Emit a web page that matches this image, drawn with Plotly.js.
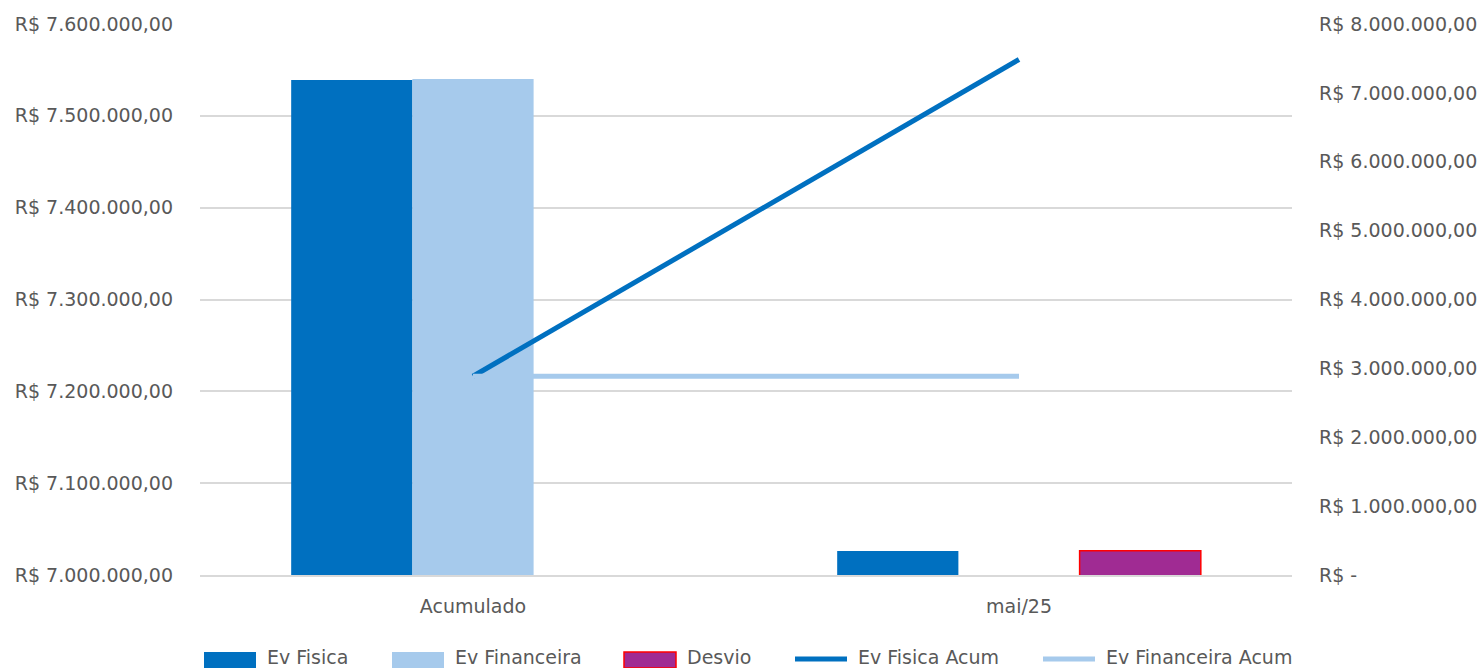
<!DOCTYPE html>
<html>
<head>
<meta charset="utf-8">
<script src="https://cdn.plot.ly/plotly-3.0.1.min.js"></script>
<style>
  html, body { margin: 0; padding: 0; background: #ffffff; overflow: hidden; }
  #chart { width: 1480px; height: 668px; }
</style>
</head>
<body>
<div id="chart"></div>
<script>
const categories = ["Acumulado", "mai/25"];
const seriesNames = ["Ev Fisica", "Ev Financeira", "Desvio", "Ev Fisica Acum", "Ev Financeira Acum"];

const evFisica = [7539000, 7026000];
const evFinanceira = [7540000, null];
const desvio = [null, 7026500];

const evFisicaAcum = [2886000, 7485000];
const evFinanceiraAcum = [2886000, 2886000];

const leftTickVals = [7000000, 7100000, 7200000, 7300000, 7400000, 7500000, 7600000];
const leftTickText = ["R$ 7.000.000,00", "R$ 7.100.000,00", "R$ 7.200.000,00", "R$ 7.300.000,00",
                      "R$ 7.400.000,00", "R$ 7.500.000,00", "R$ 7.600.000,00"];
const rightTickVals = [0, 1000000, 2000000, 3000000, 4000000, 5000000, 6000000, 7000000, 8000000];
const rightTickText = ["R$ -", "R$ 1.000.000,00", "R$ 2.000.000,00", "R$ 3.000.000,00", "R$ 4.000.000,00",
                       "R$ 5.000.000,00", "R$ 6.000.000,00", "R$ 7.000.000,00", "R$ 8.000.000,00"];

const FONT = "DejaVu Sans, Liberation Sans, Arial, sans-serif";
const TXT = "#595959";
const C_FIS = "#0070C0", C_FIN = "#A6CAEC", C_DES = "#A02B93", C_DES_LINE = "#FF0000";

const traces = [
  { type: "bar", name: seriesNames[0], x: categories, y: evFisica,
    marker: { color: C_FIS, line: { width: 0 } } },
  { type: "bar", name: seriesNames[1], x: categories, y: evFinanceira,
    marker: { color: C_FIN, line: { width: 0 } } },
  { type: "bar", name: seriesNames[2], x: categories, y: desvio,
    marker: { color: C_DES, line: { color: C_DES_LINE, width: 1.5 } } },
  { type: "scatter", mode: "lines", name: seriesNames[3], x: categories, y: evFisicaAcum,
    yaxis: "y2", line: { color: C_FIS, width: 5 } },
  { type: "scatter", mode: "lines", name: seriesNames[4], x: categories, y: evFinanceiraAcum,
    yaxis: "y2", line: { color: C_FIN, width: 5 } }
];

// Legend drawn below the plot (page coordinates converted to paper fractions)
const W = 1480, H = 668, ML = 200, MR = 188, MT = 24, MB = 93;
const PW = W - ML - MR, PH = H - MT - MB;
const px = v => (v - ML) / PW;
const py = v => (H - MB - v) / PH;

const legendItems = [
  { kind: "rect", x0: 204, tx: 265, fill: C_FIS, line: null },
  { kind: "rect", x0: 392, tx: 453, fill: C_FIN, line: null },
  { kind: "rect", x0: 624, tx: 685, fill: C_DES, line: C_DES_LINE },
  { kind: "line", x0: 795, tx: 856, fill: C_FIS },
  { kind: "line", x0: 1043, tx: 1104, fill: C_FIN }
];
const shapes = [], annotations = [];
legendItems.forEach((it, i) => {
  if (it.kind === "rect") {
    shapes.push({ type: "rect", xref: "paper", yref: "paper",
      x0: px(it.x0), x1: px(it.x0 + 52), y0: py(652), y1: py(668),
      fillcolor: it.fill, line: it.line ? { color: it.line, width: 1.5 } : { width: 0 } });
  } else {
    shapes.push({ type: "line", xref: "paper", yref: "paper",
      x0: px(it.x0), x1: px(it.x0 + 52), y0: py(659), y1: py(659),
      line: { color: it.fill, width: 5 } });
  }
  annotations.push({ xref: "paper", yref: "paper", x: px(it.tx), y: py(657),
    xanchor: "left", yanchor: "middle", showarrow: false, text: seriesNames[i],
    font: { family: FONT, size: 19, color: TXT } });
});

const layout = {
  width: W, height: H,
  margin: { l: ML, r: MR, t: MT, b: MB, pad: 0 },
  paper_bgcolor: "#ffffff", plot_bgcolor: "#ffffff",
  font: { family: FONT, size: 19, color: TXT },
  barmode: "group", bargap: 0.334, bargroupgap: 0,
  showlegend: false,
  shapes: shapes, annotations: annotations,
  xaxis: { type: "category", showgrid: false, zeroline: false, showline: true,
           linecolor: "#D9D9D9", linewidth: 2, ticks: "", ticklabelstandoff: 13,
           tickfont: { family: FONT, size: 19, color: TXT }, fixedrange: true },
  yaxis: { range: [7000000, 7600000], tickvals: leftTickVals, ticktext: leftTickText,
           showgrid: true, gridcolor: "#D9D9D9", gridwidth: 2, zeroline: false,
           showline: false, ticks: "", ticklabelstandoff: 26,
           tickfont: { family: FONT, size: 19, color: TXT }, fixedrange: true },
  yaxis2: { range: [0, 8000000], tickvals: rightTickVals, ticktext: rightTickText,
            overlaying: "y", side: "right", showgrid: false, zeroline: false,
            showline: false, ticks: "", ticklabelstandoff: 26,
            tickfont: { family: FONT, size: 19, color: TXT }, fixedrange: true }
};

Plotly.newPlot("chart", traces, layout, { staticPlot: true, displayModeBar: false });
</script>
</body>
</html>
